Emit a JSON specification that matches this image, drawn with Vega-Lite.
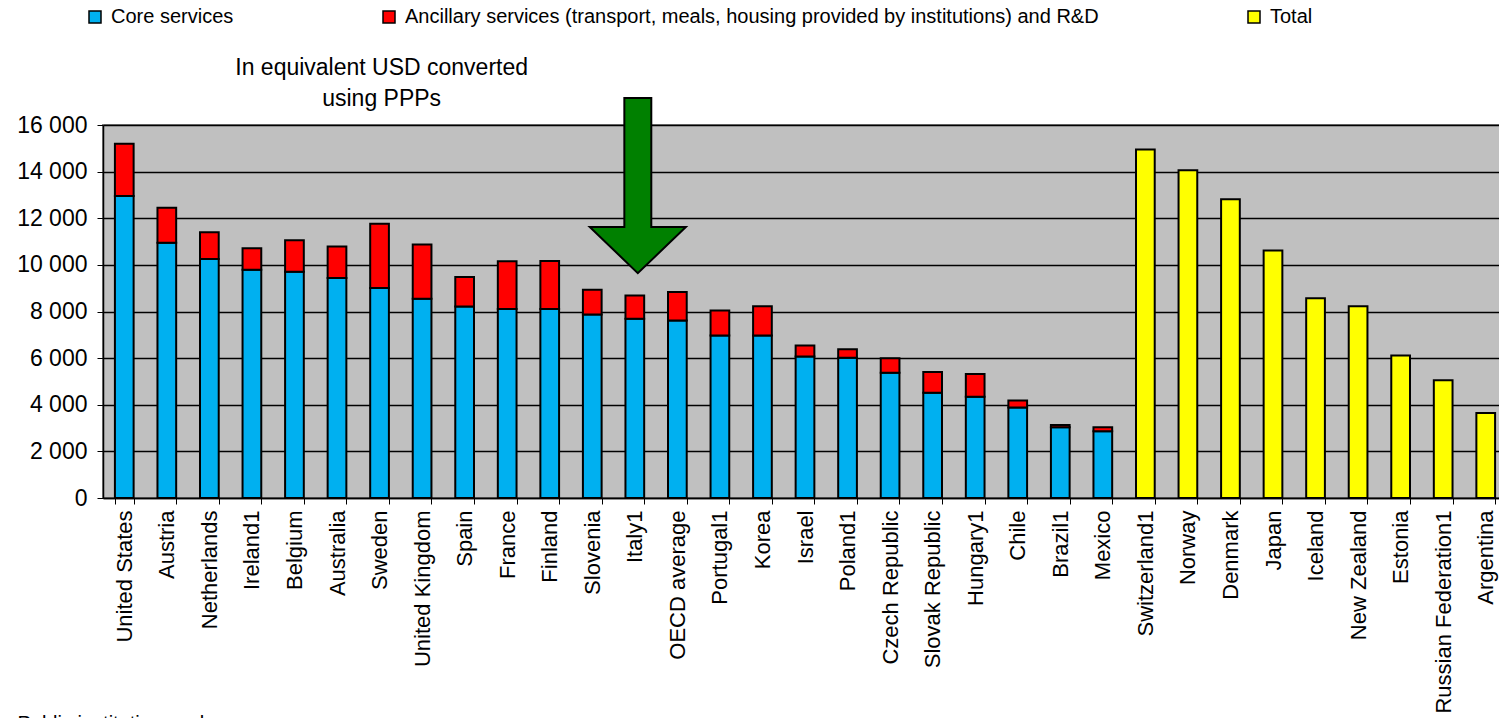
{
  "$schema": "https://vega.github.io/schema/vega-lite/v6.json",
  "width": 1404,
  "height": 373,
  "autosize": {"type": "none"},
  "padding": {"left": 103, "top": 125, "right": 0, "bottom": 220},
  "background": "white",
  "config": {
    "font": "Liberation Sans",
    "view": {"fill": "#C0C0C0", "stroke": "#808080", "strokeWidth": 2}
  },
  "title": {
    "text": ["In equivalent USD converted", "using PPPs"],
    "anchor": "start",
    "align": "center",
    "dx": 365,
    "fontSize": 23,
    "fontWeight": "normal",
    "color": "black",
    "lineHeight": 31,
    "offset": -104
  },
  "data": {
    "values": [
      {"country": "United States", "core": 12950, "anc": 2250},
      {"country": "Austria", "core": 10950, "anc": 1500},
      {"country": "Netherlands", "core": 10250, "anc": 1150},
      {"country": "Ireland1", "core": 9790, "anc": 920},
      {"country": "Belgium", "core": 9700, "anc": 1360},
      {"country": "Australia", "core": 9440, "anc": 1350},
      {"country": "Sweden", "core": 9010, "anc": 2750},
      {"country": "United Kingdom", "core": 8545, "anc": 2325},
      {"country": "Spain", "core": 8215, "anc": 1260},
      {"country": "France", "core": 8110, "anc": 2050},
      {"country": "Finland", "core": 8110, "anc": 2060},
      {"country": "Slovenia", "core": 7870, "anc": 1060},
      {"country": "Italy1", "core": 7690, "anc": 1000},
      {"country": "OECD average", "core": 7615, "anc": 1225},
      {"country": "Portugal1", "core": 6970, "anc": 1075},
      {"country": "Korea", "core": 6970, "anc": 1260},
      {"country": "Israel", "core": 6070, "anc": 475},
      {"country": "Poland1", "core": 6015, "anc": 370},
      {"country": "Czech Republic", "core": 5370, "anc": 630},
      {"country": "Slovak Republic", "core": 4515, "anc": 885},
      {"country": "Hungary1", "core": 4345, "anc": 970},
      {"country": "Chile", "core": 3885, "anc": 300},
      {"country": "Brazil1", "core": 3030, "anc": 100},
      {"country": "Mexico", "core": 2860, "anc": 170},
      {"country": "Switzerland1", "total": 14945},
      {"country": "Norway", "total": 14060},
      {"country": "Denmark", "total": 12815},
      {"country": "Japan", "total": 10615},
      {"country": "Iceland", "total": 8570},
      {"country": "New Zealand", "total": 8230},
      {"country": "Estonia", "total": 6115},
      {"country": "Russian Federation1", "total": 5055},
      {"country": "Argentina", "total": 3645}
    ]
  },
  "transform": [
    {"fold": ["core", "anc", "total"], "as": ["key", "value"]},
    {"filter": "isValid(datum.value)"},
    {"calculate": "indexof(['core','anc','total'], datum.key)", "as": "idx"},
    {"calculate": "datum.key === 'core' ? 'Core services' : datum.key === 'anc' ? 'Ancillary services (transport, meals, housing provided by institutions) and R&D' : 'Total'", "as": "series"}
  ],
  "encoding": {
    "x": {
      "field": "country",
      "type": "nominal",
      "sort": null,
      "scale": {"paddingInner": 0.56, "paddingOuter": 0.28},
      "axis": {
        "title": "Public institutions only",
        "titleX": -86,
        "titleY": 215,
        "titleAlign": "left",
        "titleAnchor": null,
        "titleBaseline": "top",
        "titleFontSize": 20,
        "titleFontWeight": "normal",
        "titleColor": "black",
        "labelAngle": 270,
        "labelFontSize": 22,
        "labelColor": "black",
        "labelPadding": 6,
        "labelLimit": 400,
        "tickBand": "extent",
        "tickColor": "black",
        "tickSize": 6,
        "domainColor": "black",
        "domainWidth": 1.5,
        "grid": false
      }
    }
  },
  "layer": [
    {
      "mark": {"type": "bar", "stroke": "black", "strokeWidth": 2},
      "encoding": {
        "y": {
          "field": "value",
          "type": "quantitative",
          "stack": "zero",
          "scale": {"domain": [0, 16000], "nice": false},
          "axis": {
            "title": null,
            "values": [0, 2000, 4000, 6000, 8000, 10000, 12000, 14000, 16000],
            "labelExpr": "replace(format(datum.value, ','), ',', ' ')",
            "labelFontSize": 23,
            "labelColor": "black",
            "labelPadding": 10,
            "tickSize": 6,
            "tickColor": "black",
            "domainColor": "black",
            "domainWidth": 1.5,
            "grid": true,
            "gridColor": "black",
            "gridWidth": 1.3
          }
        },
        "color": {
          "field": "series",
          "type": "nominal",
          "scale": {
            "domain": ["Core services", "Ancillary services (transport, meals, housing provided by institutions) and R&D", "Total"],
            "range": ["#00B0F0", "#FF0000", "#FFFF00"]
          },
          "legend": {
            "orient": "none",
            "legendX": -18,
            "legendY": -118,
            "direction": "horizontal",
            "title": null,
            "columnPadding": 145,
            "symbolType": "square",
            "symbolSize": 144,
            "symbolStrokeColor": "black",
            "symbolStrokeWidth": 1.5,
            "symbolOpacity": 1,
            "labelFontSize": 20,
            "labelColor": "black",
            "labelOffset": 6,
            "labelLimit": 1000
          }
        },
        "order": {"field": "idx", "type": "quantitative"}
      }
    },
    {
      "transform": [{"filter": "datum.country === 'Italy1' && datum.key === 'core'"}],
      "mark": {
        "type": "point",
        "shape": "M -0.154 -1 L 0.154 -1 L 0.154 0.474 L 0.549 0.474 L 0 1 L -0.549 0.474 L -0.154 0.474 Z",
        "size": 30625,
        "filled": true,
        "fill": "#008000",
        "stroke": "black",
        "strokeWidth": 2,
        "opacity": 1,
        "xOffset": 3
      },
      "encoding": {
        "y": {"datum": 13400, "type": "quantitative"}
      }
    }
  ]
}
